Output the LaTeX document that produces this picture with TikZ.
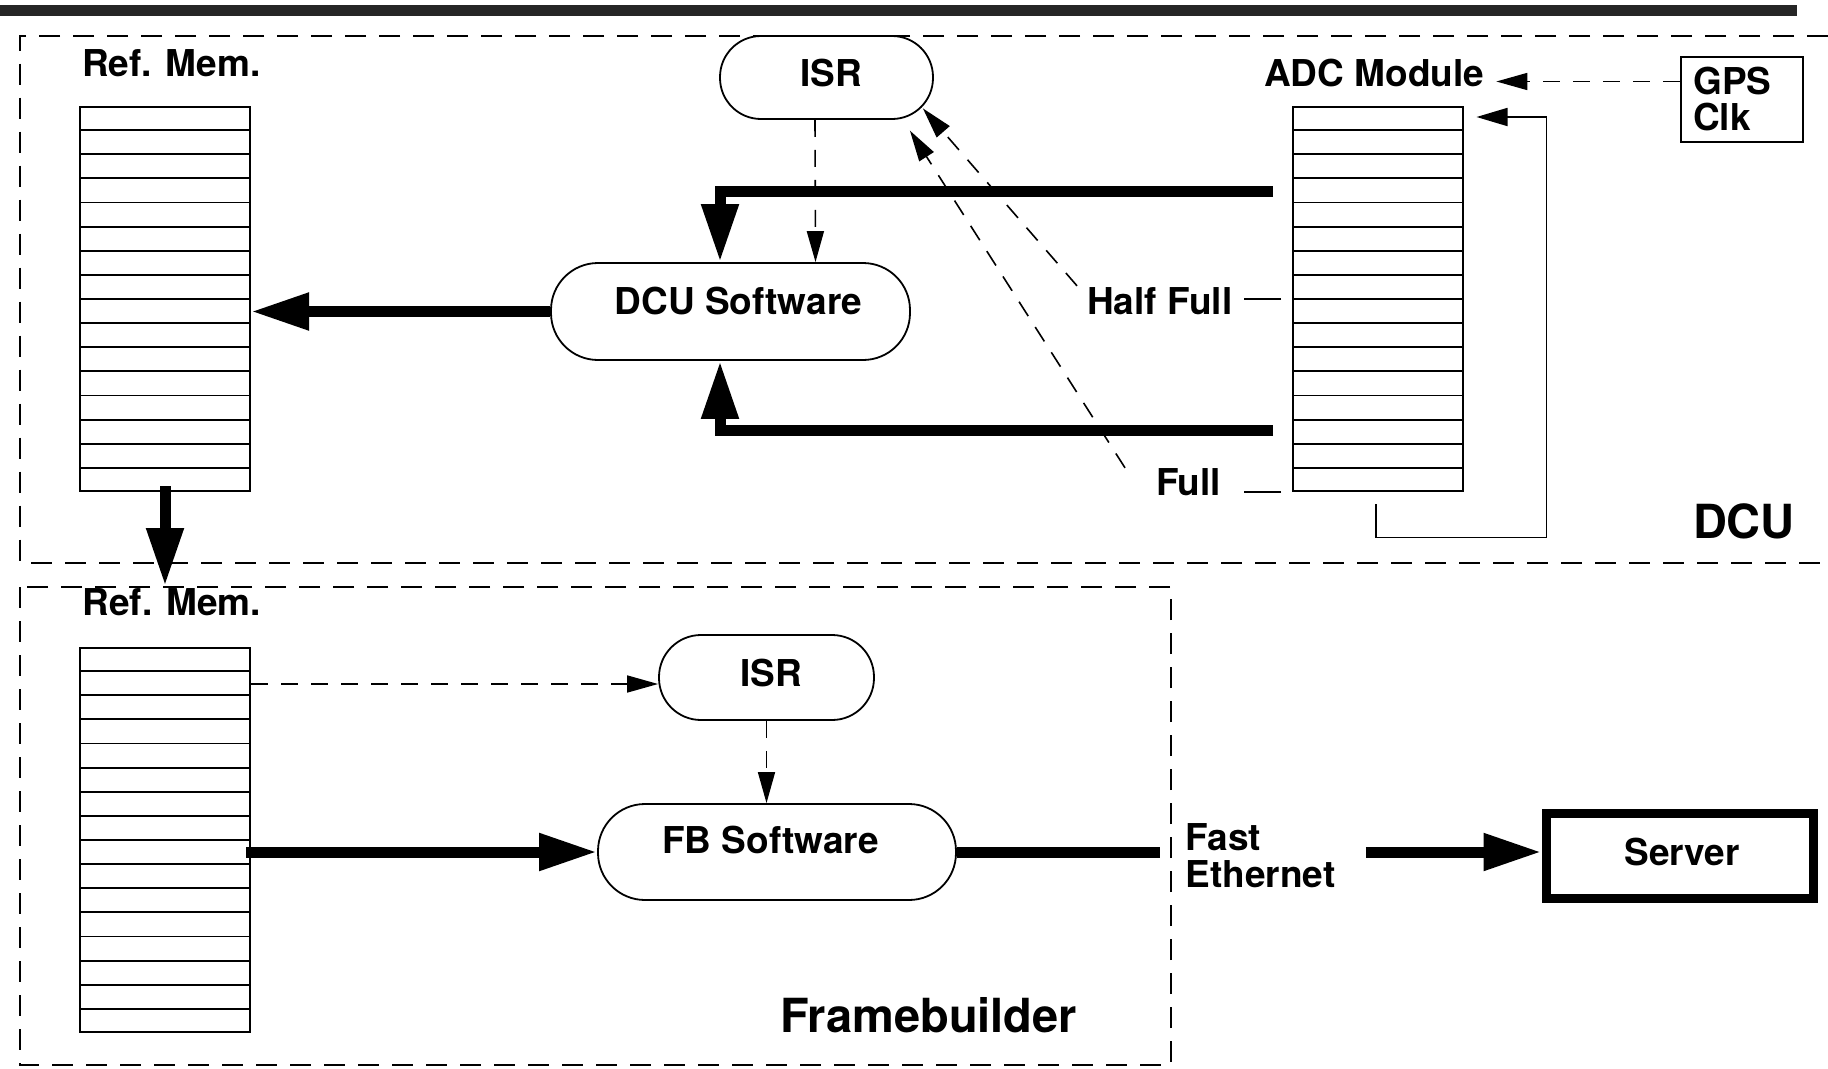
\documentclass[tikz,border=0pt]{standalone}
\usepackage{fontspec}
\setmainfont{TeX Gyre Heros}
\usetikzlibrary{arrows.meta,calc}
\begin{document}
\begin{tikzpicture}[x=1pt,y=-1pt,
  lbl/.style={font=\fontsize{37}{38}\selectfont\bfseries, inner sep=0pt},
  big/.style={font=\fontsize{47}{50}\selectfont\bfseries, inner sep=0pt},
  stack/.style={draw, line width=2pt, minimum width=170pt, minimum height=384pt, inner sep=0pt},
  soft/.style={draw, line width=1.8pt, lbl, text height=26.5pt},
  boxd/.style={line width=2pt, dash pattern=on 21pt off 13pt},
  thk/.style={line width=11pt, -{Triangle[length=58pt,width=35pt]}},
  dar/.style={line width=1.6pt, dash pattern=on 17pt off 13pt, -{Triangle[length=31pt,width=17pt]}},
  sar/.style={line width=1.8pt, -{Triangle[length=31pt,width=18pt]}},
  tick/.style={line width=1.6pt}
]
\useasboundingbox (0,0) rectangle (1828,1068);
\fill[white] (0,0) rectangle (1828,1068);

% top bar
\fill[black!85] (0,4.5) rectangle (1797,15.5);

% enclosures
\draw[boxd] (1828,35.5) -- (20,35.5) -- (20,562.5) -- (1828,562.5);
\draw[boxd] (20,587) rectangle (1171,1065);

% stacks
\node[stack] (ref1) at (165,299) {};
\node[stack] (ref2) at (165,840) {};
\node[stack] (adc) at (1378,299) {};
\foreach \n in {ref1,ref2,adc}{
  \foreach \i in {1,...,15}{
    \draw[line width=1.8pt] ($(\n.north west)!\i/16!(\n.south west)$) -- ($(\n.north east)!\i/16!(\n.south east)$);
  }
}

% software / ISR nodes
\node[soft, minimum width=213pt, minimum height=83pt, rounded corners=41pt, text depth=9pt] (isr1) at (826.5,77.5) {\hspace*{10pt}ISR};
\node[soft, minimum width=359pt, minimum height=97pt, rounded corners=47pt, text depth=20.5pt] (dcusw) at (730.5,311.5) {\hspace*{16pt}DCU Software};
\node[soft, minimum width=215pt, minimum height=85pt, rounded corners=42pt, text depth=8pt] (isr2) at (766.5,677.5) {\hspace*{9pt}ISR};
\node[soft, minimum width=358pt, minimum height=96pt, rounded corners=47pt, text depth=24pt] (fbsw) at (777,852) {FB Software\hspace*{13pt}};
\node[draw, line width=9pt, lbl, minimum width=267pt, minimum height=85pt, text height=26.5pt, text depth=8pt] (server) at (1679.5,856) {\hspace*{5pt}Server};
\node[draw, line width=2pt, minimum width=122pt, minimum height=85pt] (gps) at (1741.6,99.5) {};

% labels
\node[lbl, anchor=base west] (refmem1) at (82,76) {Ref. Mem.};
\node[lbl, anchor=base west] (refmem2) at (82.5,615) {Ref. Mem.};
\node[lbl, anchor=base west] (adclbl) at (1264,86) {ADC Module};
\node[lbl, anchor=base west] (gpst) at (1693,94.6) {GPS};
\node[lbl, anchor=base west] (clkt) at (1693,130.3) {Clk};
\node[lbl, anchor=base west] (hf) at (1087,314) {Half Full};
\node[lbl, anchor=base west] (full) at (1156,495) {Full};
\node[big, anchor=base east] (dculbl) at (1795,538) {DCU};
\node[big, anchor=base west] (fblbl) at (780,1032) {Framebuilder};
\node[lbl, anchor=base west] (fast) at (1185.5,850) {Fast};
\node[lbl, anchor=base west] (eth) at (1185.5,887) {Ethernet};

% thick data paths
\draw[thk] (dcusw.west) -- (dcusw.west -| ref1.east);
\coordinate (dtip) at (165,586);
\draw[thk] ([yshift=6pt]ref1.south) -- (dtip);
\draw[thk] ([xshift=-19pt,yshift=108pt]adc.west) -| ([xshift=-10.5pt]dcusw.north);
\draw[thk] ([xshift=-19pt,yshift=-131pt]adc.west) -| ([xshift=-10.5pt]dcusw.south);
\draw[thk] ($(fbsw.west -| ref2.east)+(-5pt,0)$) -- (fbsw.west);
\draw[line width=11pt] (fbsw.east) -- ($(fbsw.east -| fast.west)+(-26pt,0)$);
\draw[thk] ($(fbsw.east -| eth.east)+(30pt,0)$) -- (fbsw.east -| server.west);

% interrupts / control
\draw[dar] ([xshift=-11.5pt]isr1.south) -- ([xshift=85pt]dcusw.north);
\draw[dar] ([xshift=-10pt,yshift=1pt]hf.north west) -- ([xshift=-11pt,yshift=11.5pt]isr1.south east);
\draw[dar] ([xshift=-31pt]full.north west) -- ([xshift=-24pt,yshift=-10.7pt]isr1.south east);
\draw[tick] ([xshift=-11pt]adc.west) -- ([xshift=-48pt]adc.west);
\draw[tick] ([xshift=-11pt]adc.south west) -- ([xshift=-48pt]adc.south west);

\coordinate (lp) at (1546.4,537.5);
\draw[sar] ([xshift=-2pt,yshift=-12pt]adc.south) |- (lp) |- ([xshift=12.5pt,yshift=-11pt]adc.north east);

\coordinate (gpsout) at ([yshift=18pt]gps.west);
\draw[dar] (gpsout) -- ($(gpsout -| adclbl.east)+(12pt,0)$);

\coordinate (r2o) at ([yshift=156pt]ref2.east);
\draw[dar] (r2o) -- (r2o -| isr2.west);
\draw[dar] (isr2.south) -- (isr2.south |- fbsw.north);
\end{tikzpicture}
\end{document}
